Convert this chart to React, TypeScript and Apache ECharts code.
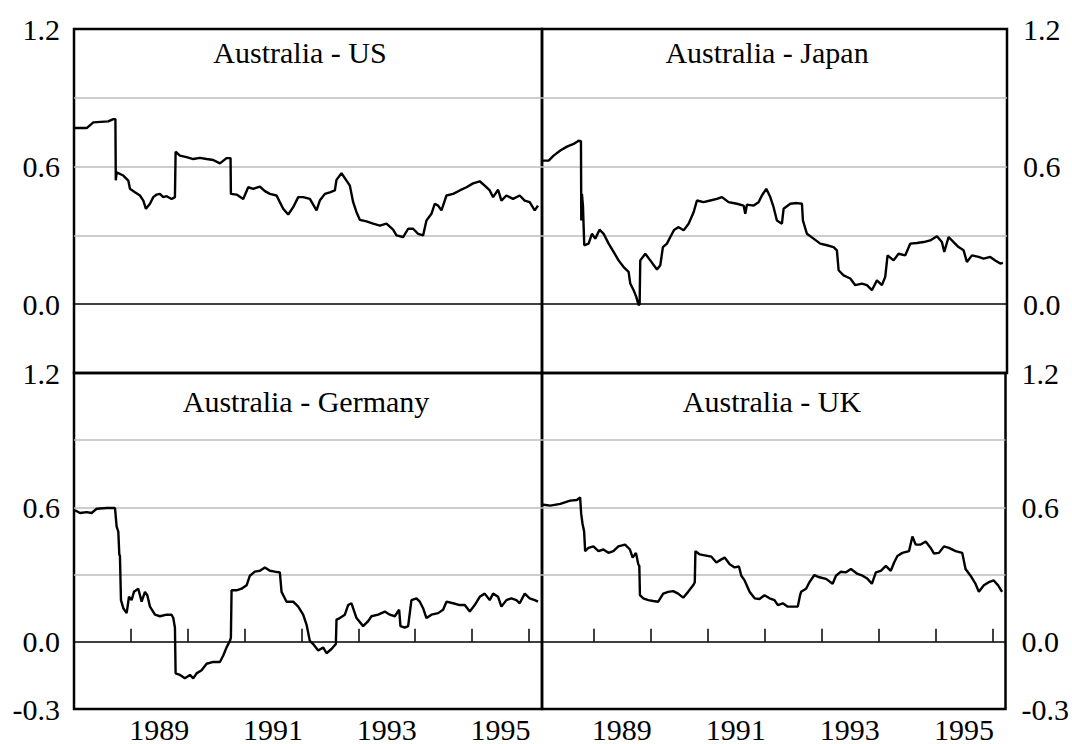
import React, { useEffect, useRef } from "react";
import * as echarts from "echarts";

// ---------- data (decimal year, value) ----------
const AUS_US: [number, number][] = [
  [1988.018,0.768],[1988.223,0.768],[1988.340,0.793],[1988.603,0.797],[1988.691,0.807],[1988.728,0.807],[1988.735,0.540],[1988.750,0.575],[1988.867,0.561],[1988.955,0.539],[1988.984,0.503],[1989.072,0.488],[1989.160,0.474],[1989.219,0.452],[1989.265,0.416],[1989.336,0.438],[1989.394,0.467],[1989.453,0.478],[1989.511,0.481],[1989.570,0.467],[1989.629,0.471],[1989.716,0.459],[1989.775,0.467],[1989.787,0.665],[1989.863,0.648],[1989.980,0.641],[1990.097,0.633],[1990.214,0.638],[1990.332,0.633],[1990.449,0.629],[1990.566,0.614],[1990.683,0.637],[1990.753,0.637],[1990.759,0.481],[1990.859,0.478],[1990.976,0.459],[1991.064,0.510],[1991.152,0.503],[1991.269,0.513],[1991.357,0.493],[1991.445,0.481],[1991.562,0.474],[1991.620,0.445],[1991.679,0.416],[1991.767,0.391],[1991.855,0.423],[1991.943,0.467],[1992.030,0.467],[1992.148,0.459],[1992.265,0.409],[1992.323,0.452],[1992.411,0.481],[1992.499,0.488],[1992.587,0.496],[1992.616,0.542],[1992.704,0.571],[1992.792,0.539],[1992.851,0.517],[1992.909,0.445],[1992.968,0.401],[1993.026,0.368],[1993.143,0.361],[1993.261,0.351],[1993.378,0.343],[1993.495,0.351],[1993.612,0.325],[1993.671,0.300],[1993.788,0.293],[1993.876,0.329],[1993.964,0.329],[1994.052,0.307],[1994.139,0.300],[1994.198,0.365],[1994.286,0.394],[1994.344,0.438],[1994.403,0.430],[1994.462,0.409],[1994.550,0.474],[1994.667,0.481],[1994.784,0.496],[1994.901,0.510],[1995.018,0.527],[1995.135,0.536],[1995.223,0.517],[1995.311,0.496],[1995.370,0.467],[1995.458,0.499],[1995.516,0.452],[1995.604,0.474],[1995.721,0.459],[1995.838,0.474],[1995.926,0.452],[1996.014,0.445],[1996.102,0.409],[1996.160,0.430]
];

const AUS_JAPAN: [number, number][] = [
  [1988.099,0.626],[1988.216,0.626],[1988.303,0.648],[1988.420,0.670],[1988.536,0.687],[1988.653,0.699],[1988.740,0.713],[1988.769,0.710],[1988.781,0.713],[1988.787,0.365],[1988.798,0.481],[1988.816,0.430],[1988.839,0.257],[1988.915,0.264],[1988.973,0.307],[1989.031,0.286],[1989.107,0.325],[1989.177,0.307],[1989.265,0.264],[1989.352,0.228],[1989.439,0.191],[1989.527,0.162],[1989.614,0.141],[1989.643,0.090],[1989.702,0.061],[1989.748,0.032],[1989.789,-0.004],[1989.807,0.000],[1989.818,0.191],[1989.906,0.220],[1989.993,0.191],[1990.110,0.151],[1990.168,0.170],[1990.214,0.249],[1990.284,0.264],[1990.343,0.293],[1990.413,0.325],[1990.488,0.336],[1990.576,0.322],[1990.663,0.351],[1990.751,0.401],[1990.809,0.452],[1990.925,0.445],[1991.042,0.452],[1991.159,0.459],[1991.246,0.467],[1991.362,0.445],[1991.508,0.438],[1991.625,0.430],[1991.654,0.394],[1991.683,0.434],[1991.800,0.430],[1991.887,0.445],[1991.945,0.474],[1992.021,0.503],[1992.091,0.467],[1992.149,0.423],[1992.207,0.365],[1992.295,0.351],[1992.324,0.416],[1992.441,0.438],[1992.557,0.441],[1992.645,0.438],[1992.662,0.365],[1992.732,0.307],[1992.848,0.286],[1992.965,0.264],[1993.082,0.257],[1993.198,0.249],[1993.256,0.235],[1993.286,0.148],[1993.373,0.126],[1993.490,0.112],[1993.577,0.083],[1993.693,0.090],[1993.781,0.083],[1993.868,0.061],[1993.956,0.104],[1994.043,0.083],[1994.101,0.119],[1994.142,0.213],[1994.247,0.191],[1994.334,0.220],[1994.451,0.213],[1994.538,0.264],[1994.655,0.267],[1994.772,0.271],[1994.888,0.278],[1995.005,0.296],[1995.092,0.271],[1995.133,0.228],[1995.209,0.293],[1995.296,0.271],[1995.383,0.249],[1995.471,0.235],[1995.529,0.184],[1995.617,0.213],[1995.733,0.206],[1995.821,0.199],[1995.937,0.206],[1996.024,0.191],[1996.112,0.177],[1996.159,0.180]
];

const AUS_GERMANY: [number, number][] = [
  [1988.018,0.587],[1988.105,0.575],[1988.223,0.579],[1988.310,0.575],[1988.398,0.594],[1988.574,0.597],[1988.721,0.597],[1988.750,0.514],[1988.779,0.492],[1988.797,0.390],[1988.808,0.383],[1988.826,0.186],[1988.867,0.150],[1988.926,0.128],[1988.967,0.201],[1989.013,0.186],[1989.054,0.223],[1989.131,0.237],[1989.189,0.179],[1989.248,0.223],[1989.289,0.208],[1989.336,0.157],[1989.424,0.121],[1989.511,0.114],[1989.629,0.121],[1989.716,0.121],[1989.746,0.106],[1989.775,0.063],[1989.787,-0.141],[1989.863,-0.148],[1989.951,-0.163],[1990.039,-0.148],[1990.097,-0.163],[1990.156,-0.141],[1990.244,-0.127],[1990.332,-0.098],[1990.449,-0.090],[1990.566,-0.090],[1990.625,-0.061],[1990.683,-0.025],[1990.742,0.004],[1990.759,0.019],[1990.771,0.230],[1990.859,0.230],[1990.947,0.237],[1991.035,0.252],[1991.093,0.295],[1991.181,0.313],[1991.269,0.317],[1991.357,0.332],[1991.445,0.317],[1991.533,0.313],[1991.620,0.310],[1991.650,0.223],[1991.738,0.179],[1991.855,0.179],[1991.943,0.157],[1992.030,0.121],[1992.089,0.077],[1992.148,0.004],[1992.206,-0.010],[1992.294,-0.039],[1992.382,-0.025],[1992.441,-0.051],[1992.528,-0.032],[1992.605,-0.010],[1992.616,0.099],[1992.675,0.106],[1992.763,0.121],[1992.821,0.164],[1992.880,0.172],[1992.968,0.106],[1993.085,0.070],[1993.173,0.092],[1993.231,0.114],[1993.349,0.121],[1993.466,0.135],[1993.554,0.121],[1993.642,0.114],[1993.718,0.143],[1993.741,0.070],[1993.817,0.063],[1993.876,0.070],[1993.934,0.186],[1994.022,0.194],[1994.081,0.179],[1994.139,0.150],[1994.198,0.106],[1994.286,0.121],[1994.403,0.128],[1994.491,0.143],[1994.550,0.179],[1994.667,0.172],[1994.784,0.164],[1994.872,0.164],[1994.960,0.135],[1995.047,0.164],[1995.135,0.201],[1995.223,0.215],[1995.311,0.186],[1995.370,0.215],[1995.458,0.201],[1995.516,0.157],[1995.604,0.186],[1995.692,0.194],[1995.780,0.186],[1995.838,0.172],[1995.926,0.215],[1996.014,0.194],[1996.102,0.186],[1996.160,0.179]
];

const AUS_UK: [number, number][] = [
  [1988.099,0.613],[1988.245,0.608],[1988.420,0.616],[1988.594,0.630],[1988.711,0.633],[1988.769,0.645],[1988.787,0.572],[1988.810,0.528],[1988.839,0.492],[1988.857,0.405],[1988.915,0.419],[1989.002,0.426],[1989.090,0.405],[1989.177,0.412],[1989.265,0.397],[1989.352,0.405],[1989.439,0.426],[1989.556,0.434],[1989.643,0.412],[1989.690,0.376],[1989.748,0.397],[1989.789,0.346],[1989.807,0.339],[1989.818,0.208],[1989.876,0.194],[1989.964,0.186],[1990.051,0.182],[1990.139,0.179],[1990.226,0.215],[1990.314,0.223],[1990.401,0.226],[1990.488,0.215],[1990.576,0.197],[1990.663,0.223],[1990.751,0.252],[1990.780,0.266],[1990.791,0.405],[1990.867,0.390],[1990.955,0.386],[1991.071,0.380],[1991.159,0.354],[1991.246,0.368],[1991.304,0.376],[1991.392,0.346],[1991.479,0.332],[1991.555,0.336],[1991.596,0.295],[1991.654,0.274],[1991.741,0.223],[1991.829,0.194],[1991.916,0.191],[1992.003,0.208],[1992.091,0.194],[1992.178,0.186],[1992.237,0.164],[1992.324,0.172],[1992.411,0.157],[1992.499,0.157],[1992.586,0.157],[1992.627,0.208],[1992.645,0.223],[1992.732,0.237],[1992.790,0.266],[1992.878,0.298],[1992.965,0.288],[1993.082,0.281],[1993.198,0.259],[1993.256,0.295],[1993.344,0.313],[1993.431,0.310],[1993.519,0.325],[1993.635,0.303],[1993.723,0.295],[1993.810,0.281],[1993.886,0.259],[1993.956,0.310],[1994.043,0.317],[1994.131,0.339],[1994.218,0.317],[1994.276,0.354],[1994.334,0.383],[1994.422,0.397],[1994.538,0.405],[1994.597,0.470],[1994.655,0.434],[1994.742,0.434],[1994.830,0.448],[1994.917,0.419],[1994.976,0.394],[1995.063,0.397],[1995.150,0.426],[1995.238,0.419],[1995.354,0.405],[1995.471,0.397],[1995.529,0.325],[1995.617,0.295],[1995.704,0.259],[1995.762,0.223],[1995.850,0.252],[1995.937,0.266],[1996.024,0.274],[1996.100,0.252],[1996.170,0.223]
];

const PANEL_TITLES = ["Australia - US", "Australia - Japan", "Australia - Germany", "Australia - UK"];
const Y_MIN = -0.3;
const Y_MAX = 1.2;
const Y_STEP = 0.3;
const Y_LABELS_TOP = ["1.2", "0.6", "0.0"];
const Y_LABELS_BOTTOM = ["1.2", "0.6", "0.0", "-0.3"];
const X_TICK_YEARS = [1989, 1990, 1991, 1992, 1993, 1994, 1995, 1996];
const X_LABEL_YEARS = [1989, 1991, 1993, 1995];

const FONT = "'Liberation Serif', 'Times New Roman', serif";

export default function App() {
  const ref = useRef<HTMLDivElement>(null);

  useEffect(() => {
    if (!ref.current) return;
    const chart = echarts.init(ref.current, undefined, { renderer: "svg" });

    const grids = [
      { left: 74, top: 29, width: 468, height: 344 },
      { left: 542, top: 29, width: 465, height: 344 },
      { left: 74, top: 373, width: 468, height: 342 },
      { left: 542, top: 373, width: 465, height: 342 },
    ];
    const xMins = [1988.0, 1988.1, 1988.0, 1988.1];
    const xMax = 1996.23;
    const seriesData = [AUS_US, AUS_JAPAN, AUS_GERMANY, AUS_UK];
    const titlePos = [
      [300, 52],
      [767, 52],
      [306, 401],
      [772, 401],
    ];

    const fmtY = (allowed: string[]) => (v: number) => {
      const s = (Math.round(v * 10) / 10).toFixed(1);
      const t = s === "-0.0" ? "0.0" : s;
      return allowed.includes(t) ? t : "";
    };

    const option: any = {
      animation: false,
      grid: grids.map((g) => ({
        ...g,
        show: true,
        borderColor: "#000",
        borderWidth: 2.5,
        backgroundColor: "transparent",
        containLabel: false,
      })),
      xAxis: grids.map((_, i) => {
        const bottom = i >= 2;
        return {
          type: "value",
          gridIndex: i,
          min: xMins[i],
          max: xMax,
          axisLine: { show: false },
          splitLine: { show: false },
          axisTick: bottom
            ? {
                show: true,
                inside: true,
                length: 13,
                customValues: X_TICK_YEARS,
                lineStyle: { color: "#000", width: 1.5 },
              }
            : { show: false },
          axisLabel: bottom
            ? {
                show: true,
                customValues: X_LABEL_YEARS.map((y) => y + 0.5),
                formatter: (v: number) => String(Math.floor(v)),
                fontSize: 30,
                fontFamily: FONT,
                color: "#000",
                margin: 5,
              }
            : { show: false },
        };
      }),
      yAxis: grids.map((_, i) => {
        const bottom = i >= 2;
        const right = i % 2 === 1;
        return {
          type: "value",
          gridIndex: i,
          min: Y_MIN,
          max: Y_MAX,
          interval: Y_STEP,
          position: right ? "right" : "left",
          axisLine: { show: false },
          axisTick: { show: false },
          splitLine: {
            show: true,
            lineStyle: {
              color: ["#000", "#000", "#bdbdbd", "#bdbdbd", "#bdbdbd", "#000"],
              width: 1.5,
            },
          },
          axisLabel: {
            show: true,
            formatter: fmtY(bottom ? Y_LABELS_BOTTOM : Y_LABELS_TOP),
            fontSize: 30,
            fontFamily: FONT,
            color: "#000",
            margin: right ? 16 : 14,
          },
        };
      }),
      series: seriesData.map((d, i) => ({
        type: "line",
        xAxisIndex: i,
        yAxisIndex: i,
        data: d,
        showSymbol: false,
        symbol: "none",
        clip: true,
        lineStyle: { color: "#000", width: 2.4 },
        z: 5,
      })),
      graphic: PANEL_TITLES.map((t, i) => ({
        type: "text",
        x: titlePos[i][0],
        y: titlePos[i][1],
        style: {
          text: t,
          fontSize: 30,
          fontFamily: FONT,
          fill: "#000",
          align: "center",
          verticalAlign: "middle",
        },
      })),
    };

    chart.setOption(option);
    return () => chart.dispose();
  }, []);

  return (
    <div
      ref={ref}
      style={{ position: "absolute", left: 0, top: 0, width: 1072, height: 744, background: "#fff" }}
    />
  );
}
